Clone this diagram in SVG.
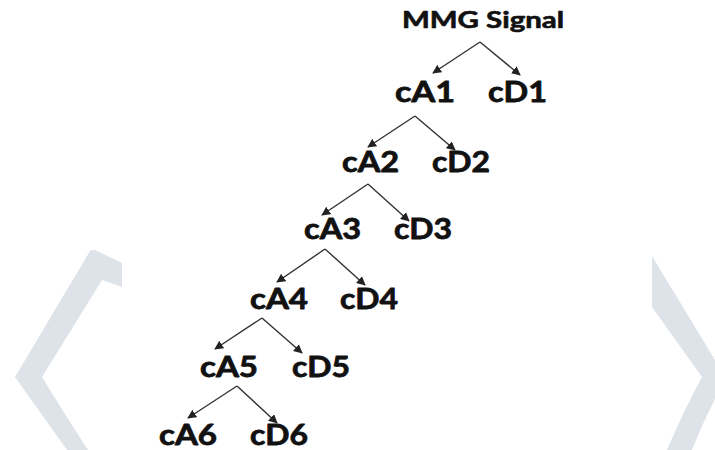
<svg xmlns="http://www.w3.org/2000/svg" width="715" height="450" viewBox="0 0 715 450">
<defs>
<style>
.lbl{font-family:Lato,"Open Sans","Liberation Sans",sans-serif;font-weight:bold;font-size:29px;fill:#111;stroke:#111;stroke-width:0.8;stroke-linejoin:round}
.top{font-size:22px;stroke-width:0.6}
.wm{fill:#dde3e8}
.edge{stroke:#333;stroke-width:1.4;fill:none;marker-end:url(#ah)}
</style>
<marker id="ah" viewBox="0 0 10 10" refX="9" refY="5" markerWidth="9" markerHeight="9" markerUnits="userSpaceOnUse" orient="auto">
<path d="M0,0 L10,5 L0,10 z" fill="#222"/>
</marker>
</defs>
<rect width="715" height="450" fill="#fff"/>
<g id="watermark">
<path class="wm" d="M90,251 Q93,249 97,251 L122,263 L122,287 L102,280 L42,377 Q62,410 88,450 L67,450 Q40,412 15,377 Z"/>
<path class="wm" d="M652,256 L715,360 L727,377 Q708,410 692,450 L667,450 Q683,412 702,377 L652,307 Z"/>
</g>
<g id="connectors">
<path class="edge" d="M480,42 L433,73"/>
<path class="edge" d="M480,42 L520,75"/>
<path class="edge" d="M415,116 L368,147"/>
<path class="edge" d="M415,116 L455,150"/>
<path class="edge" d="M368,184 L322,215"/>
<path class="edge" d="M368,184 L409,221"/>
<path class="edge" d="M325,249 L277,282"/>
<path class="edge" d="M325,249 L365,285"/>
<path class="edge" d="M262,318 L215,349"/>
<path class="edge" d="M262,318 L302,353"/>
<path class="edge" d="M237,386 L188,418"/>
<path class="edge" d="M237,386 L277,423"/>
</g>
<g id="n-mmg"><text class="lbl top" x="402" y="28" textLength="162" lengthAdjust="spacingAndGlyphs">MMG Signal</text></g>
<g id="n-cA1"><text class="lbl" x="395" y="102" textLength="60" lengthAdjust="spacingAndGlyphs">cA1</text></g>
<g id="n-cD1"><text class="lbl" x="488" y="102" textLength="59" lengthAdjust="spacingAndGlyphs">cD1</text></g>
<g id="n-cA2"><text class="lbl" x="342" y="172" textLength="57" lengthAdjust="spacingAndGlyphs">cA2</text></g>
<g id="n-cD2"><text class="lbl" x="432" y="172" textLength="58" lengthAdjust="spacingAndGlyphs">cD2</text></g>
<g id="n-cA3"><text class="lbl" x="304" y="239" textLength="57" lengthAdjust="spacingAndGlyphs">cA3</text></g>
<g id="n-cD3"><text class="lbl" x="394" y="239" textLength="58" lengthAdjust="spacingAndGlyphs">cD3</text></g>
<g id="n-cA4"><text class="lbl" x="250" y="309" textLength="58" lengthAdjust="spacingAndGlyphs">cA4</text></g>
<g id="n-cD4"><text class="lbl" x="340" y="309" textLength="58" lengthAdjust="spacingAndGlyphs">cD4</text></g>
<g id="n-cA5"><text class="lbl" x="200" y="377" textLength="58" lengthAdjust="spacingAndGlyphs">cA5</text></g>
<g id="n-cD5"><text class="lbl" x="292" y="377" textLength="58" lengthAdjust="spacingAndGlyphs">cD5</text></g>
<g id="n-cA6"><text class="lbl" x="159" y="445" textLength="58" lengthAdjust="spacingAndGlyphs">cA6</text></g>
<g id="n-cD6"><text class="lbl" x="250" y="445" textLength="58" lengthAdjust="spacingAndGlyphs">cD6</text></g>
</svg>
